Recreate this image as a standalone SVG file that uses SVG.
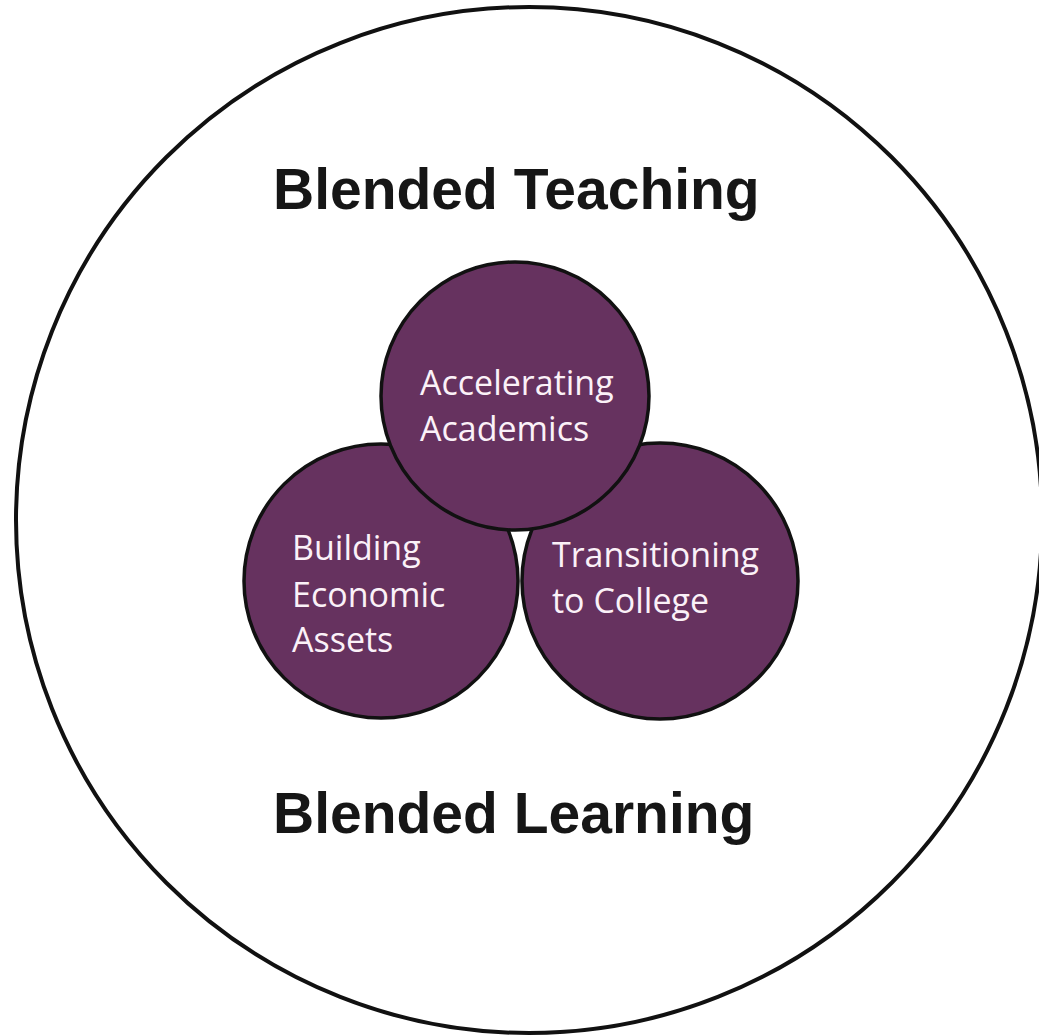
<svg xmlns="http://www.w3.org/2000/svg" width="1039" height="1036" viewBox="0 0 1039 1036">
<style>
.title{font-family:"Liberation Sans",Arial,sans-serif;font-weight:bold;font-size:57px;fill:#161616}
.node circle{fill:#66325f;stroke:#111;stroke-width:3.5}
.node text{font-family:"Open Sans","DejaVu Sans",sans-serif;font-size:34px;fill:#fbf1f8}
</style>
<rect width="1039" height="1036" fill="#ffffff"/>
<g id="outer">
<circle cx="529" cy="520" r="513" fill="none" stroke="#111" stroke-width="4"/>
<text class="title" x="273" y="209">Blended Teaching</text>
<text class="title" x="273" y="833">Blended Learning</text>
</g>
<g id="connectors"></g>
<g id="building" class="node">
<circle cx="381" cy="581" r="137"/>
<text x="292" y="560">Building</text>
<text x="292" y="607">Economic</text>
<text x="292" y="652">Assets</text>
</g>
<g id="transitioning" class="node">
<circle cx="660" cy="581" r="138"/>
<text x="552" y="567">Transitioning</text>
<text x="552" y="613">to College</text>
</g>
<g id="accelerating" class="node">
<circle cx="515" cy="396" r="134"/>
<text x="420" y="395">Accelerating</text>
<text x="420" y="441">Academics</text>
</g>
</svg>
